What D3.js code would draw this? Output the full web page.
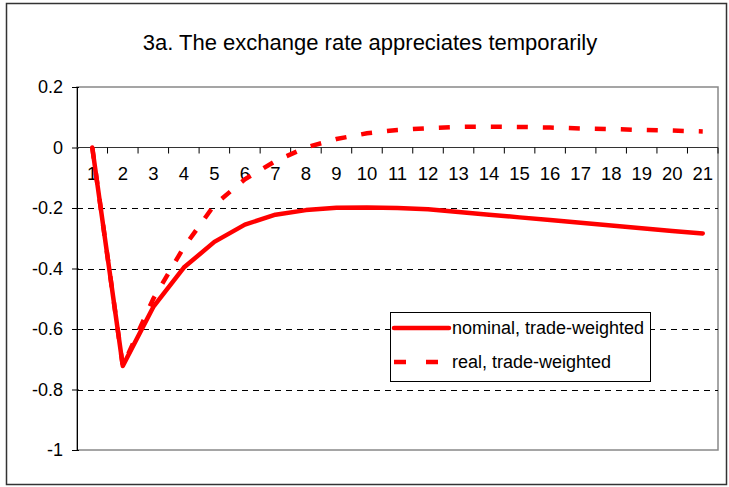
<!DOCTYPE html>
<html>
<head>
<meta charset="utf-8">
<script src="https://cdn.jsdelivr.net/npm/d3@7.9.0/dist/d3.min.js"></script>
<style>
  body { margin: 0; background: #fff; }
  svg { font-family: "Liberation Sans", Arial, sans-serif; }
</style>
</head>
<body>
<div id="chart"></div>
<script>
const periods = d3.range(1, 22).map(String);
const nominal = [0, -0.722, -0.527, -0.397, -0.312, -0.255, -0.222, -0.207, -0.199, -0.198, -0.200,
  -0.204, -0.213, -0.222, -0.231, -0.240, -0.249, -0.258, -0.267, -0.276, -0.284];
const real = [0, -0.722, -0.50, -0.33, -0.19, -0.105, -0.045, 0.0, 0.028, 0.047, 0.058,
  0.064, 0.068, 0.069, 0.068, 0.066, 0.063, 0.061, 0.058, 0.056, 0.053];
const yTicks = [0.2, 0, -0.2, -0.4, -0.6, -0.8, -1];
const seriesNames = ['nominal, trade-weighted', 'real, trade-weighted'];

const width = 729, height = 487;
const plot = { left: 77, right: 718, top: 87, bottom: 450 };

const svg = d3.select('#chart').append('svg')
  .attr('width', width).attr('height', height);

// outer frame
svg.append('rect')
  .attr('x', 6.5).attr('y', 3.5).attr('width', 720).attr('height', 481)
  .attr('fill', '#fff').attr('stroke', '#333').attr('stroke-width', 1.5);

svg.append('text')
  .attr('x', 370).attr('y', 50)
  .attr('text-anchor', 'middle')
  .attr('font-size', 22)
  .text('3a. The exchange rate appreciates temporarily');

const x = d3.scaleBand().domain(periods).range([plot.left, plot.right]);
const y = d3.scaleLinear().domain([-1, 0.2]).range([plot.bottom, plot.top]);
const cx = d => x(d) + x.bandwidth() / 2;

// plot area border (grey)
svg.append('rect')
  .attr('x', plot.left).attr('y', plot.top)
  .attr('width', plot.right - plot.left).attr('height', plot.bottom - plot.top)
  .attr('fill', 'none').attr('stroke', '#888').attr('stroke-width', 1.5);

// dashed gridlines
svg.append('g')
  .selectAll('line')
  .data(yTicks.filter(v => v < 0 && v > -1))
  .join('line')
  .attr('x1', plot.left).attr('x2', plot.right)
  .attr('y1', d => Math.round(y(d)) + 0.5).attr('y2', d => Math.round(y(d)) + 0.5)
  .attr('stroke', '#000').attr('stroke-dasharray', '6,5');

// y axis
const yAxis = svg.append('g')
  .attr('transform', `translate(${plot.left},0)`)
  .call(d3.axisLeft(y).tickValues(yTicks).tickSize(5).tickPadding(9)
    .tickFormat(d => String(+d.toFixed(1))));
yAxis.select('.domain').attr('stroke', '#000');
yAxis.selectAll('.tick line').attr('x2', -5).attr('x1', 2);
yAxis.selectAll('text').attr('font-size', 18).attr('fill', '#000')
  .attr('font-family', '"Liberation Sans", Arial, sans-serif');

// x axis at zero
const x0 = y(0);
const xAxis = svg.append('g').attr('transform', `translate(0,${x0})`);
xAxis.append('line')
  .attr('x1', plot.left).attr('x2', plot.right)
  .attr('stroke', '#333').attr('stroke-width', 1.2);
xAxis.selectAll('line.tick')
  .data(periods.slice(1).concat(['end']))
  .join('line').attr('class', 'tick')
  .attr('x1', d => d === 'end' ? plot.right : x(d))
  .attr('x2', d => d === 'end' ? plot.right : x(d))
  .attr('y1', 0).attr('y2', 6).attr('stroke', '#000');
xAxis.selectAll('text')
  .data(periods)
  .join('text')
  .attr('x', d => cx(d)).attr('y', 32)
  .attr('text-anchor', 'middle').attr('font-size', 18.5)
  .text(d => d);

const line = d3.line().x((d, i) => cx(periods[i])).y(d => y(d));

svg.append('path').datum(nominal)
  .attr('d', line).attr('fill', 'none')
  .attr('stroke', '#ff0000').attr('stroke-width', 4.5)
  .attr('stroke-linejoin', 'round').attr('stroke-linecap', 'round');

svg.append('path').datum(real)
  .attr('d', line).attr('fill', 'none')
  .attr('stroke', '#ff0000').attr('stroke-width', 4.5)
  .attr('stroke-dasharray', '11,15');

// legend
const lg = svg.append('g');
lg.append('rect')
  .attr('x', 390.5).attr('y', 312.5).attr('width', 260).attr('height', 69)
  .attr('fill', '#fff').attr('stroke', '#000');
const rows = [{ y: 328, dash: null }, { y: 362, dash: '12,20' }];
rows.forEach((r, i) => {
  lg.append('line')
    .attr('x1', 394).attr('x2', 449).attr('y1', r.y).attr('y2', r.y)
    .attr('stroke', '#ff0000').attr('stroke-width', 4.5)
    .attr('stroke-linecap', r.dash ? 'butt' : 'round')
    .attr('stroke-dasharray', r.dash);
  lg.append('text')
    .attr('x', 452).attr('y', r.y + 6)
    .attr('font-size', 18)
    .text(seriesNames[i]);
});
</script>
</body>
</html>
